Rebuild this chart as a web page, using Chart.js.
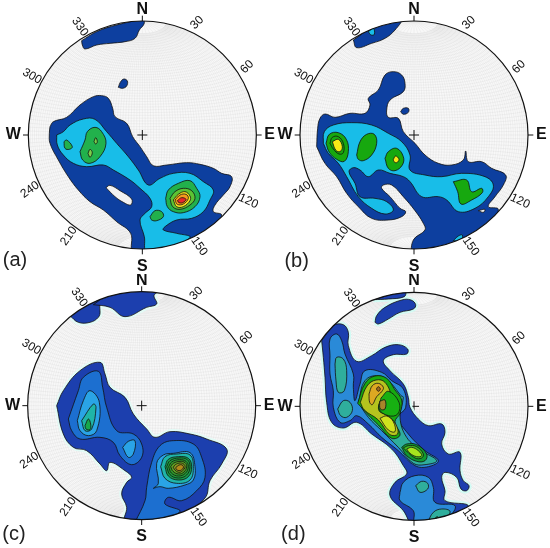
<!DOCTYPE html>
<html>
<head>
<meta charset="utf-8">
<title>Stereonets</title>
<script src="https://cdn.jsdelivr.net/npm/chart.js@4"></script>
<style>
    html, body { margin: 0; padding: 0; background: #fff; }
    #wrap { position: relative; width: 550px; height: 548px; overflow: hidden; }
    canvas { position: absolute; }
</style>
</head>
<body>
<div id="wrap">
    <canvas id="a" width="275" height="274" style="left:0;top:0"></canvas>
    <canvas id="b" width="275" height="274" style="left:275px;top:0"></canvas>
    <canvas id="c" width="275" height="274" style="left:0;top:274px"></canvas>
    <canvas id="d" width="275" height="274" style="left:275px;top:274px"></canvas>
</div>
<script>
// Tick labels
const CARDINALS = ['N', 'E', 'S', 'W'];
const DEGREE_LABELS = ['30', '60', '120', '150', '210', '240', '300', '330'];

// Contours, panel units are 1/3 px
// Panel a
const aTop = [[245,122],[290,95],[350,75],[430,60],[432,72],[418,90],[405,115],[375,125],[330,130],[290,135],[255,147],[247,135]];
const aBlob = [[355,262],[362,245],[372,237],[382,243],[380,258],[368,265]];
const aMain = [[150,380],[160,365],[200,352],[240,315],[280,290],[305,287],[325,295],[338,325],[345,350],[380,370],[398,410],[420,440],[440,470],[460,497],[500,495],[560,488],[600,493],[640,505],[665,520],[695,530],[690,560],[670,585],[645,615],[640,635],[665,645],[640,690],[560,745],[440,760],[398,755],[392,700],[350,665],[310,630],[270,605],[235,570],[205,530],[175,480],[150,430],[148,400]];
const aCyan = [[170,405],[190,395],[210,375],[250,357],[285,358],[320,395],[350,430],[385,470],[415,510],[445,555],[480,535],[520,520],[570,520],[610,545],[640,570],[630,600],[610,635],[575,655],[530,660],[495,680],[490,690],[530,700],[570,712],[500,750],[440,755],[433,710],[420,660],[435,640],[455,620],[450,595],[420,565],[390,540],[340,510],[310,495],[260,500],[220,490],[190,465],[172,435]];
const aHole = [[318,563],[330,556],[360,572],[395,597],[392,615],[370,607],[345,590]];
const aGreen1 = [[240,455],[255,420],[262,395],[285,382],[305,395],[318,430],[300,470],[270,490],[248,480]];
const aSpot1 = [[282,425],[287,413],[292,425],[287,432]];
const aSpot2 = [[264,460],[270,448],[277,458],[270,472]];
const aGreen2 = [[192,425],[200,420],[217,440],[208,448],[195,445]];
const aGreen3 = [[450,650],[465,632],[485,635],[490,650],[470,662],[455,660]];
const aPeak1 = [[497,595],[505,570],[535,550],[570,542],[590,565],[600,590],[585,620],[550,638],[520,635],[502,620]];
const aPeak2 = [[510,595],[525,575],[550,565],[575,572],[585,595],[570,615],[540,628],[518,620]];
const aPeak3 = [[520,600],[535,583],[555,575],[570,588],[570,602],[550,620],[530,620]];
const aPeak4 = [[525,600],[540,585],[558,583],[565,595],[550,612],[532,613]];
const aPeak5 = [[532,602],[545,593],[558,598],[548,608],[537,608]];

// Panel b
const bTop = [[235,120],[290,85],[378,60],[360,90],[330,115],[290,130],[245,143]];
const bTopCyan = [[280,95],[295,85],[298,103],[288,105]];
const bBlob = [[377,335],[385,325],[400,325],[400,337],[385,343]];
const bMain = [[125,440],[128,385],[135,355],[150,342],[180,352],[225,340],[270,340],[285,315],[280,295],[310,270],[330,225],[355,215],[380,225],[390,250],[385,275],[345,300],[335,330],[340,352],[370,355],[385,395],[420,430],[450,465],[490,490],[530,495],[565,480],[572,453],[580,485],[620,485],[650,505],[692,525],[685,555],[660,590],[640,620],[670,628],[640,690],[550,745],[470,760],[415,760],[415,720],[450,690],[445,670],[420,632],[385,590],[350,555],[325,555],[320,565],[345,590],[375,625],[392,635],[380,650],[340,660],[290,655],[250,620],[215,580],[185,530],[150,490]];
const bCyan = [[145,430],[148,395],[175,375],[230,368],[290,375],[340,400],[380,425],[405,465],[405,510],[450,525],[500,530],[560,520],[630,530],[655,555],[640,590],[600,625],[550,635],[515,600],[490,590],[440,590],[405,545],[385,530],[345,520],[310,510],[280,530],[255,510],[235,503],[222,515],[240,550],[255,590],[300,595],[335,605],[355,630],[330,642],[290,625],[250,590],[215,530],[190,490],[160,460]];
const bCyan2 = [[535,722],[550,708],[562,705],[558,722]];
const bSliver = [[610,632],[630,628],[625,637]];
const bRing1 = [[153,430],[163,403],[190,398],[214,418],[220,455],[208,484],[185,478],[163,457]];
const bRing2 = [[165,430],[172,412],[190,410],[205,430],[205,458],[192,462],[175,447]];
const bYellow1 = [[172,425],[190,418],[202,440],[195,455],[182,450]];
const bGreen2 = [[245,465],[255,425],[275,403],[298,403],[305,430],[290,465],[265,482],[250,478]];
const bGreen3 = [[330,475],[340,455],[365,445],[385,470],[382,495],[360,512],[340,505]];
const bYellow2 = [[355,478],[362,468],[372,478],[365,488],[357,485]];
const bGreen4 = [[535,545],[575,540],[590,575],[620,565],[622,578],[590,600],[558,612],[548,575]];

// Panel c
const cTop1 = [[210,125],[290,75],[300,110],[295,130],[270,145],[235,145]];
const cTop2 = [[280,92],[340,55],[475,50],[462,65],[470,90],[440,100],[375,128],[330,100]];
const cMain = [[170,395],[190,350],[240,290],[300,265],[315,300],[330,340],[375,370],[400,420],[440,465],[465,490],[510,473],[570,480],[620,495],[680,525],[665,570],[630,620],[615,672],[540,725],[470,745],[375,745],[380,700],[365,660],[380,625],[395,610],[375,590],[330,565],[320,590],[300,570],[260,530],[220,520],[190,480]];
const cLeft2 = [[205,435],[235,350],[250,310],[295,292],[308,340],[320,400],[350,470],[400,480],[425,510],[425,550],[395,572],[360,545],[340,505],[300,490],[240,495],[215,470]];
const cLeft3 = [[232,440],[250,380],[270,350],[298,385],[290,470],[265,485],[240,470]];
const cLeft4 = [[245,440],[280,390],[288,400],[275,465],[255,470]];
const cLeft5 = [[255,455],[265,435],[272,450],[270,467],[258,465]];
const cMid3 = [[368,520],[385,502],[405,500],[400,540],[385,550]];
const cRight2 = [[405,745],[435,680],[440,640],[455,565],[480,515],[520,500],[580,510],[605,550],[615,610],[590,650],[545,680],[505,670],[495,690],[540,712],[470,745]];
const cRight3 = [[460,643],[475,628],[470,568],[490,543],[520,538],[570,536],[585,578],[580,618],[555,633],[505,643],[480,638]];
const cPeak1 = [[482,578],[495,548],[530,540],[570,543],[580,578],[570,618],[530,628],[495,613]];
const cPeak2 = [[495,578],[505,556],[535,548],[565,553],[575,578],[565,608],[535,618],[505,606]];
const cPeak3 = [[500,578],[510,560],[537,552],[562,557],[570,578],[560,603],[535,612],[510,602]];
const cPeak4 = [[506,578],[515,564],[538,557],[558,562],[565,578],[556,598],[535,606],[514,597]];
const cPeak5 = [[512,578],[520,568],[540,562],[555,566],[560,578],[552,594],[536,600],[519,592]];
const cPeak6 = [[520,580],[526,572],[541,567],[552,571],[555,580],[548,590],[537,595],[525,588]];
const cPeak7 = [[527,582],[532,576],[542,572],[549,575],[550,582],[544,588],[537,590],[530,587]];

// Panel d
const dSliver = [[295,77],[390,52],[388,68],[340,75]];
const dBlob = [[300,145],[305,125],[330,100],[380,78],[408,78],[422,92],[415,105],[375,115],[340,135],[310,150]];
const dMain = [[140,200],[175,155],[205,152],[220,175],[220,215],[245,262],[290,245],[330,220],[370,212],[398,225],[395,240],[355,242],[325,260],[345,290],[385,330],[400,370],[405,400],[430,435],[460,455],[500,450],[510,475],[500,510],[520,540],[555,535],[555,590],[565,620],[582,635],[575,650],[558,645],[545,610],[510,595],[500,610],[510,650],[510,680],[580,695],[540,730],[470,755],[415,755],[385,710],[345,665],[360,625],[395,600],[385,575],[350,525],[290,480],[245,445],[205,462],[170,445],[155,385],[150,310],[145,250]];
const dLeft2 = [[165,245],[165,195],[185,180],[200,200],[210,240],[235,300],[235,340],[240,380],[255,330],[270,290],[320,295],[350,320],[385,345],[392,400],[370,430],[400,480],[450,530],[490,560],[460,578],[420,575],[370,530],[320,490],[280,450],[245,425],[225,440],[195,445],[175,400],[175,350],[165,300]];
const dBottom2 = [[375,655],[385,625],[420,605],[460,610],[475,640],[480,685],[540,695],[520,730],[470,755],[420,750],[415,710],[375,680]];
const dTeal1 = [[180,270],[185,250],[205,255],[215,290],[208,350],[190,355],[183,320]];
const dTeal2 = [[188,405],[205,380],[225,385],[232,410],[215,430],[197,425]];
const dTeal3 = [[250,385],[270,320],[310,305],[345,325],[378,365],[385,370],[375,430],[395,490],[440,530],[485,560],[450,572],[415,568],[370,520],[320,470],[280,430]];
const dTeal4 = [[422,635],[440,622],[458,628],[458,645],[435,655]];
const dTeal5 = [[458,745],[475,715],[500,705],[525,712],[510,735],[470,755]];
const dGreen0 = [[475,738],[487,728],[492,738],[480,745]];
const dGreen1 = [[248,388],[270,328],[300,306],[335,313],[360,348],[380,378],[375,418],[360,443],[375,483],[350,493],[310,453],[280,423]];
const dLime1 = [[256,385],[276,336],[303,318],[330,325],[345,365],[318,380],[312,410],[338,425],[362,450],[368,480],[345,482],[310,438],[268,408]];
const dGreen2 = [[318,372],[340,352],[372,385],[368,420],[340,425],[312,405]];
const dOlive = [[314,382],[330,378],[330,405],[316,405]];
const dOrange = [[282,360],[292,335],[310,328],[325,340],[320,353],[305,368],[292,392],[284,385]];
const dCore = [[304,345],[310,338],[316,345],[310,352]];
const dLime2 = [[315,433],[335,426],[355,443],[360,473],[340,468]];
const dPeak1 = [[380,520],[395,510],[425,512],[455,540],[450,560],[425,562],[395,545]];
const dPeak2 = [[385,522],[400,515],[425,518],[445,540],[440,552],[420,552]];
const dPeak3 = [[395,525],[410,520],[430,530],[440,545],[425,548],[405,538]];

const NET = '#f2f2f2';

const PANELS = [
    {
        id: 'a', letter: '(a)', center: [427, 405], letterAt: [45, 780], halo: null,
        layers: [
            [aTop, '#0d3f9f'], [aBlob, '#0d3f9f'], [aMain, '#0d3f9f'], [aCyan, '#18bde8'], [aHole, NET],
            [aGreen1, '#22b14c'], [aSpot1, '#7ccf4a'], [aSpot2, '#7ccf4a'], [aGreen2, '#22b14c'], [aGreen3, '#22b14c'],
            [aPeak1, '#22b14c'], [aPeak2, '#5cc233'], [aPeak3, '#f5e11e'], [aPeak4, '#f79a1c'], [aPeak5, '#e8262a']
        ]
    },
    {
        id: 'b', letter: '(b)', center: [417, 405], letterAt: [65, 783], halo: null,
        layers: [
            [bTop, '#0d3f9f'], [bBlob, '#0d3f9f'], [bMain, '#0d3f9f'], [bTopCyan, '#18bde8'], [bCyan, '#18bde8'], [bCyan2, '#18bde8'], [bSliver, NET],
            [bRing1, '#17a80f'], [bRing2, '#17a80f'], [bYellow1, '#f8ea16'], [bGreen2, '#17a80f'], [bGreen3, '#17a80f'], [bYellow2, '#f8ea16'], [bGreen4, '#17a80f']
        ]
    },
    {
        id: 'c', letter: '(c)', center: [425, 395], letterAt: [42, 782], halo: '#e2fbf6',
        layers: [
            [cTop1, '#1c3fae'], [cTop2, '#1c3fae'], [cMain, '#1c3fae'], [cLeft2, '#1c6fd0'], [cLeft3, '#2aa4e6'], [cLeft4, '#1fb5a8'], [cLeft5, '#17a84a'], [cMid3, '#2aa4e6'],
            [cRight2, '#1c6fd0'], [cRight3, '#2aa4e6'], [cPeak1, '#1fb5a8'], [cPeak2, '#17a04a'], [cPeak3, '#1f9e3a'], [cPeak4, '#2f9a2a'], [cPeak5, '#5d9f22'], [cPeak6, '#8a9a1e'], [cPeak7, '#b08a1a']
        ]
    },
    {
        id: 'd', letter: '(d)', center: [417, 397], letterAt: [55, 782], halo: '#d2fbf4',
        layers: [
            [dSliver, '#1c3fae'], [dBlob, '#1c3fae'], [dMain, '#1c3fae'], [dLeft2, '#2a8ad8'], [dBottom2, '#2a8ad8'],
            [dTeal1, '#2fae9c'], [dTeal2, '#2fae9c'], [dTeal3, '#2fae9c'], [dTeal4, '#2fae9c'], [dTeal5, '#2fae9c'], [dGreen0, '#17a84a'],
            [dGreen1, '#17a80f'], [dLime1, '#b5c41e'], [dGreen2, '#17b012'], [dOlive, '#a8852a'], [dOrange, '#dca822'], [dCore, '#a06a20'], [dLime2, '#cfe31e'],
            [dPeak1, '#109a30'], [dPeak2, '#40b820'], [dPeak3, '#a8e41e']
        ]
    }
];

const RADIUS = 342;
const DEGREE_ANGLES = [26, 57, 122, 153, 216, 244, 298, 330];
const DEGREE_TILT = [-45, -45, 25, 55, -55, -35, 30, 55];
const CARDINAL_DIST = [376, 382, 394, 387];

function closed(points) {
    const pts = points.map(p => ({ x: p[0], y: p[1] }));
    pts.push(pts[0]);
    return pts;
}

function toDatasets(panel) {
    const sets = [];
    if (panel.halo) {
        panel.layers.slice(0, 3).forEach(([points]) => {
            sets.push({ data: closed(points), showLine: true, fill: false, borderColor: panel.halo, borderWidth: 5, tension: 0.4, pointRadius: 0 });
        });
    }
    panel.layers.forEach(([points, color]) => {
        sets.push({ data: closed(points), showLine: true, fill: 'shape', backgroundColor: color, borderColor: '#111', borderWidth: 0.8, tension: 0.4, pointRadius: 0 });
    });
    // last layer has to end up on top
    sets.forEach((set, i) => { set.order = sets.length - i; });
    return sets;
}

// Equatorial equal area net, projected through the chart scales
function drawNet(ctx, chart, center) {
    const sx = chart.scales.x, sy = chart.scales.y;
    const project = (lat, lon) => {
        const phi = lat * Math.PI / 180, lam = lon * Math.PI / 180;
        const k = RADIUS / Math.sqrt(2) * Math.sqrt(2 / (1 + Math.cos(phi) * Math.cos(lam)));
        return [sx.getPixelForValue(center[0] + k * Math.cos(phi) * Math.sin(lam)), sy.getPixelForValue(center[1] - k * Math.sin(phi))];
    };
    ctx.strokeStyle = 'rgba(170,170,170,0.22)';
    ctx.lineWidth = 0.5;
    for (let lon = -88; lon <= 88; lon += 2) {
        ctx.beginPath();
        const stop = lon % 10 === 0 ? 90 : 78;
        for (let lat = -stop; lat <= stop; lat += 3) {
            const [x, y] = project(lat, lon);
            if (lat === -stop) ctx.moveTo(x, y); else ctx.lineTo(x, y);
        }
        ctx.stroke();
    }
    for (let lat = -78; lat <= 78; lat += 2) {
        ctx.beginPath();
        for (let lon = -90; lon <= 90; lon += 3) {
            const [x, y] = project(lat, lon);
            if (lon === -90) ctx.moveTo(x, y); else ctx.lineTo(x, y);
        }
        ctx.stroke();
    }
}

function stereonetPlugin(panel) {
    const [cx, cy] = panel.center;
    const rim = (ctx, chart) => {
        const sx = chart.scales.x, sy = chart.scales.y;
        ctx.beginPath();
        ctx.arc(sx.getPixelForValue(cx), sy.getPixelForValue(cy), sx.getPixelForValue(cx + RADIUS) - sx.getPixelForValue(cx), 0, Math.PI * 2);
    };
    const segment = (ctx, chart, x1, y1, x2, y2) => {
        ctx.beginPath();
        ctx.moveTo(chart.scales.x.getPixelForValue(x1), chart.scales.y.getPixelForValue(y1));
        ctx.lineTo(chart.scales.x.getPixelForValue(x2), chart.scales.y.getPixelForValue(y2));
        ctx.stroke();
    };
    return {
        id: 'stereonet',
        beforeDatasetsDraw(chart) {
            const ctx = chart.ctx;
            ctx.save();
            rim(ctx, chart);
            ctx.fillStyle = '#f8f8f8';
            ctx.fill();
            ctx.clip();
            drawNet(ctx, chart, panel.center);
            // the contours cover the centre cross where they reach it
            ctx.strokeStyle = '#111';
            ctx.lineWidth = 1;
            segment(ctx, chart, cx - 15, cy, cx + 15, cy);
            segment(ctx, chart, cx, cy - 15, cx, cy + 15);
        },
        afterDatasetsDraw(chart) {
            const ctx = chart.ctx;
            const sx = chart.scales.x, sy = chart.scales.y;
            ctx.restore();
            ctx.save();
            rim(ctx, chart);
            ctx.strokeStyle = '#111';
            ctx.lineWidth = 1.2;
            ctx.stroke();

            // ticks on the rim
            ctx.lineWidth = 1;
            segment(ctx, chart, cx, cy - RADIUS, cx, cy - RADIUS - 16);
            segment(ctx, chart, cx, cy + RADIUS, cx, cy + RADIUS + 16);
            segment(ctx, chart, cx - RADIUS, cy, cx - RADIUS - 16, cy);
            segment(ctx, chart, cx + RADIUS, cy, cx + RADIUS + 16, cy);

            ctx.fillStyle = '#111';
            ctx.textAlign = 'center';
            ctx.textBaseline = 'middle';
            ctx.font = 'bold 16px "Liberation Sans"';
            CARDINALS.forEach((label, i) => {
                const a = i * Math.PI / 2;
                ctx.fillText(label, sx.getPixelForValue(cx + Math.sin(a) * CARDINAL_DIST[i]), sy.getPixelForValue(cy - Math.cos(a) * CARDINAL_DIST[i]));
            });
            ctx.font = '12px "Liberation Sans"';
            DEGREE_LABELS.forEach((label, i) => {
                const a = DEGREE_ANGLES[i] * Math.PI / 180;
                ctx.save();
                ctx.translate(sx.getPixelForValue(cx + Math.sin(a) * 375), sy.getPixelForValue(cy - Math.cos(a) * 375));
                ctx.rotate(DEGREE_TILT[i] * Math.PI / 180);
                ctx.fillText(label, 0, 0);
                ctx.restore();
            });
            ctx.font = '20px "Liberation Sans"';
            ctx.fillStyle = '#222';
            ctx.fillText(panel.letter, sx.getPixelForValue(panel.letterAt[0]), sy.getPixelForValue(panel.letterAt[1]));
            ctx.restore();
        }
    };
}

PANELS.forEach(panel => {
    new Chart(document.getElementById(panel.id), {
        type: 'scatter',
        data: { datasets: toDatasets(panel) },
        options: {
            responsive: false,
            animation: false,
            layout: { padding: 0 },
            plugins: { legend: { display: false }, tooltip: { enabled: false } },
            scales: {
                x: { display: false, min: 0, max: 825 },
                y: { display: false, min: 0, max: 822, reverse: true }
            }
        },
        plugins: [stereonetPlugin(panel)]
    });
});
</script>
</body>
</html>
